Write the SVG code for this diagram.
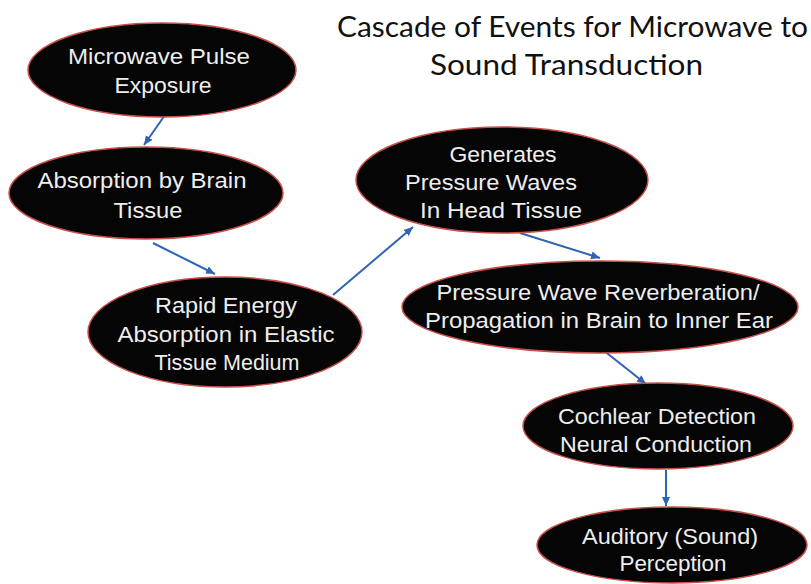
<svg xmlns="http://www.w3.org/2000/svg" width="811" height="584" viewBox="0 0 811 584">
<defs>
<marker id="ah" markerUnits="userSpaceOnUse" markerWidth="12" markerHeight="10" refX="9" refY="4" orient="auto">
<path d="M0,0 L9,4 L0,8 Z" fill="#2f63b4"/>
</marker>
<style>
.node ellipse{fill:#050505;stroke:#c8504a;stroke-width:1.5}
.node text{font-family:"Liberation Sans",Arial,sans-serif;font-size:22px;fill:#eeeeee;text-anchor:middle}
.title{font-family:Lato,"Open Sans",sans-serif;font-size:28px;fill:#111111}
#connectors line{stroke:#2f63b4;stroke-width:2;marker-end:url(#ah)}
</style>
</defs>
<rect width="811" height="584" fill="#ffffff"/>
<g id="title">
<text class="title" x="337" y="37" textLength="471" lengthAdjust="spacingAndGlyphs">Cascade of Events for Microwave to</text>
<text class="title" x="430" y="75" textLength="273" lengthAdjust="spacingAndGlyphs">Sound Transduction</text>
</g>
<g id="connectors">
<line x1="165" y1="115" x2="144" y2="145"/>
<line x1="153" y1="243" x2="215" y2="274"/>
<line x1="333" y1="295" x2="413" y2="227"/>
<line x1="520" y1="233" x2="600" y2="258"/>
<line x1="603" y1="350" x2="646" y2="384"/>
<line x1="666" y1="470" x2="666" y2="506"/>
</g>
<g id="n1" class="node">
<ellipse cx="162" cy="70" rx="134" ry="47"/>
<text x="159" y="64" textLength="182" lengthAdjust="spacingAndGlyphs">Microwave Pulse</text>
<text x="163" y="93" textLength="97" lengthAdjust="spacingAndGlyphs">Exposure</text>
</g>
<g id="n2" class="node">
<ellipse cx="146" cy="193" rx="137" ry="46"/>
<text x="142" y="188" textLength="209" lengthAdjust="spacingAndGlyphs">Absorption by Brain</text>
<text x="148" y="218" textLength="69" lengthAdjust="spacingAndGlyphs">Tissue</text>
</g>
<g id="n3" class="node">
<ellipse cx="225" cy="332" rx="137" ry="55"/>
<text x="226" y="313" textLength="142" lengthAdjust="spacingAndGlyphs">Rapid Energy</text>
<text x="226" y="342" textLength="217" lengthAdjust="spacingAndGlyphs">Absorption in Elastic</text>
<text x="227" y="370" textLength="145" lengthAdjust="spacingAndGlyphs">Tissue Medium</text>
</g>
<g id="n4" class="node">
<ellipse cx="502" cy="180" rx="146" ry="53"/>
<text x="503" y="162" textLength="107" lengthAdjust="spacingAndGlyphs">Generates</text>
<text x="491" y="190" textLength="172" lengthAdjust="spacingAndGlyphs">Pressure Waves</text>
<text x="501" y="218" textLength="162" lengthAdjust="spacingAndGlyphs">In Head Tissue</text>
</g>
<g id="n5" class="node">
<ellipse cx="600" cy="307" rx="198" ry="46"/>
<text x="598" y="300" textLength="323" lengthAdjust="spacingAndGlyphs">Pressure Wave Reverberation/</text>
<text x="599" y="328" textLength="348" lengthAdjust="spacingAndGlyphs">Propagation in Brain to Inner Ear</text>
</g>
<g id="n6" class="node">
<ellipse cx="658" cy="426" rx="135" ry="43"/>
<text x="657" y="424" textLength="198" lengthAdjust="spacingAndGlyphs">Cochlear Detection</text>
<text x="656" y="452" textLength="192" lengthAdjust="spacingAndGlyphs">Neural Conduction</text>
</g>
<g id="n7" class="node">
<ellipse cx="672" cy="545" rx="135" ry="38"/>
<text x="670" y="544" textLength="176" lengthAdjust="spacingAndGlyphs">Auditory (Sound)</text>
<text x="673" y="571" textLength="107" lengthAdjust="spacingAndGlyphs">Perception</text>
</g>
</svg>
